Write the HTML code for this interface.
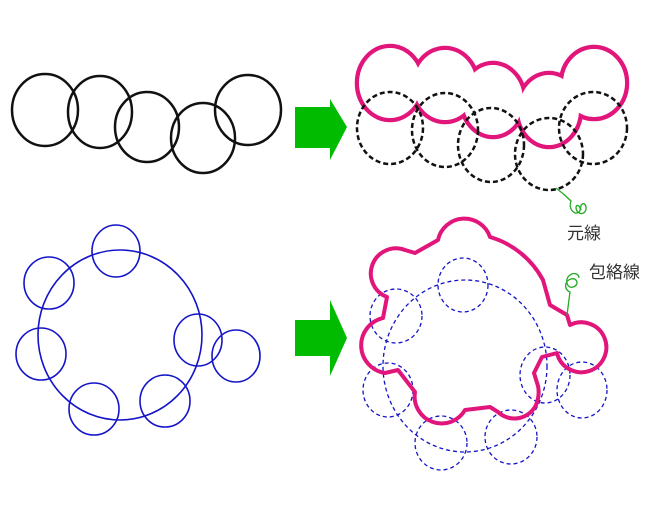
<!DOCTYPE html>
<html><head><meta charset="utf-8"><style>
html,body{margin:0;padding:0;background:#fff;width:650px;height:507px;overflow:hidden}
svg{display:block}
text{font-family:"Liberation Sans","Noto Sans CJK JP",sans-serif;font-size:17px;fill:#333}
</style></head><body>
<svg width="650" height="507" viewBox="0 0 650 507" xmlns="http://www.w3.org/2000/svg">
<g fill="none" stroke="#111" stroke-width="2.5">
<ellipse cx="45" cy="110" rx="33" ry="36"/>
<ellipse cx="100" cy="112" rx="32" ry="36"/>
<ellipse cx="147" cy="127" rx="32" ry="35"/>
<ellipse cx="203" cy="138" rx="32" ry="35"/>
<ellipse cx="248" cy="110" rx="33" ry="35"/>
</g>
<g fill="#00bb00">
<rect x="295" y="107" width="36" height="41"/>
<polygon points="330,99 347,127 330,160"/>
<rect x="295" y="320" width="36" height="36"/>
<polygon points="330,300 347,338 330,376"/>
</g>
<g fill="none" stroke="#e2157b" stroke-width="4.5">
<ellipse cx="390" cy="83" rx="33" ry="37"/>
<ellipse cx="445" cy="85" rx="33" ry="37"/>
<ellipse cx="493" cy="100" rx="32" ry="37"/>
<ellipse cx="549" cy="110" rx="32" ry="37"/>
<ellipse cx="594" cy="83" rx="33" ry="36"/>
</g>
<g fill="#fff">
<ellipse cx="390" cy="83" rx="31" ry="35"/>
<ellipse cx="445" cy="85" rx="31" ry="35"/>
<ellipse cx="493" cy="100" rx="30" ry="35"/>
<ellipse cx="549" cy="110" rx="30" ry="35"/>
<ellipse cx="594" cy="83" rx="31" ry="34"/>
</g>
<g fill="none" stroke="#111" stroke-width="2.5" stroke-dasharray="5,3">
<ellipse cx="390" cy="128" rx="33" ry="36"/>
<ellipse cx="445" cy="130" rx="33" ry="37"/>
<ellipse cx="491" cy="145" rx="33" ry="37"/>
<ellipse cx="549" cy="154" rx="34" ry="36"/>
<ellipse cx="593" cy="128" rx="34" ry="36"/>
</g>
<g fill="none" stroke="#1414c8" stroke-width="1.6">
<ellipse cx="120" cy="335" rx="82" ry="85"/>
<ellipse cx="116" cy="251" rx="24" ry="26"/>
<ellipse cx="49" cy="283" rx="25" ry="26"/>
<ellipse cx="41" cy="354" rx="25" ry="26"/>
<ellipse cx="94" cy="409" rx="25" ry="26"/>
<ellipse cx="165" cy="401" rx="25" ry="26"/>
<ellipse cx="198" cy="340" rx="24" ry="26"/>
<ellipse cx="236" cy="356" rx="24" ry="26"/>
</g>
<g fill="none" stroke="#1414c8" stroke-width="1.3" stroke-dasharray="4,3">
<ellipse cx="465" cy="366" rx="82" ry="86"/>
<ellipse cx="463" cy="285" rx="25" ry="27"/>
<ellipse cx="396" cy="316" rx="26" ry="27"/>
<ellipse cx="388" cy="390" rx="25" ry="27"/>
<ellipse cx="441" cy="443" rx="26" ry="27"/>
<ellipse cx="511" cy="437" rx="26" ry="27"/>
<ellipse cx="545" cy="375" rx="25" ry="28"/>
<ellipse cx="582" cy="390" rx="25" ry="28"/>
</g>
<path fill="none" stroke="#e2157b" stroke-width="4" stroke-linejoin="round" d="M387,297 L383,318 A28,28 0 0 0 385,373 L398,370 L415,392 A27,27 0 0 0 465,410 L490,407 L498,412 A24,24 0 0 0 536,405 Q540,395 538,386 L534,373 L542,357 L557,353 A25,25 0 1 0 570,325 L567,315 L550,305 L543,280 A88,88 0 0 0 490,237 A27,27 0 0 0 438,240 L415,253 L405,250 A25,25 0 0 0 387,297 Z"/>
<g fill="none" stroke="#22aa22" stroke-width="1.3">
<path d="M556,188 Q564,194 571,201 C568,208 574,216 579,212 C583,208 576,202 576,208 C577,216 587,215 586,207 C585,201 579,204 581,210"/>
<path d="M567,315 L570,292 C564,290 564,281 571,279 C577,277 580,285 573,287 C567,289 564,279 570,275 C574,272 579,274 579,278"/>
</g>
<text x="567" y="239">元線</text>
<text x="589" y="278">包絡線</text>
</svg>
</body></html>
